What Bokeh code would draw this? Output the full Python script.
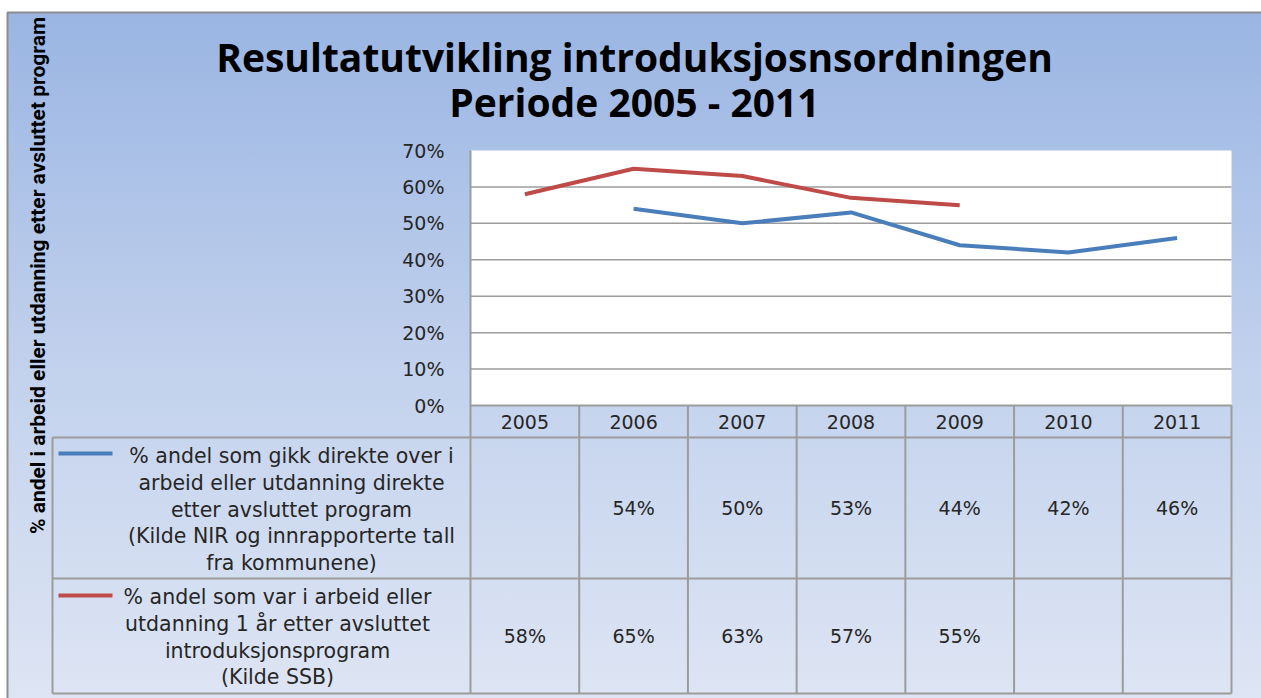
import math
from bokeh.plotting import figure
from bokeh.models import Range1d
from bokeh.embed import file_html
from bokeh.resources import INLINE
from bokeh.core.properties import value

# ---------------- data ----------------
years = [2005, 2006, 2007, 2008, 2009, 2010, 2011]
nir = [None, 54, 50, 53, 44, 42, 46]        # % direkte over i arbeid/utdanning (NIR)
ssb = [58, 65, 63, 57, 55, None, None]      # % i arbeid/utdanning 1 år etter (SSB)
y_ticks = [0, 10, 20, 30, 40, 50, 60, 70]
grid_ticks = [10, 20, 30, 40, 50, 60]
title_lines = ["Resultatutvikling introduksjosnsordningen", "Periode 2005 - 2011"]
y_title = "% andel i arbeid eller utdanning etter avsluttet program"
nir_label = ["% andel som gikk direkte over i", "arbeid eller utdanning direkte",
             "etter avsluttet program", "(Kilde NIR og innrapporterte tall",
             "fra kommunene)"]
ssb_label = ["% andel som var i arbeid eller", "utdanning 1 år etter avsluttet",
             "introduksjonsprogram", "(Kilde SSB)"]

BLUE = "#4a7ebb"
RED = "#be4b48"
GRID = "#9c9c9c"
TXT = "#262626"
FONT = value("DejaVu Sans")

# ---------------- layout (page pixels) ----------------
W, H = 1261, 698
PL, PR, PT, PB = 470, 1231, 150, 405        # white plot area
head_bottom, row1_bottom, row2_bottom = 437, 578, 693
legend_left = 52

ppx = (PR - PL) / len(years)
xa = years[0] - 0.5
xb = years[-1] + 0.5
ppy = (PB - PT) / y_ticks[-1]

p = figure(width=W, height=H, output_backend="svg", toolbar_location=None, title=None,
           x_range=Range1d(xa - PL / ppx, xa + (W - PL) / ppx),
           y_range=Range1d(-(H - PB) / ppy, y_ticks[-1] + PT / ppy),
           x_axis_location=None, y_axis_location=None, min_border=0)
p.min_border_left = p.min_border_right = p.min_border_top = p.min_border_bottom = 0
p.extra_x_ranges = {"px": Range1d(0, W)}
p.extra_y_ranges = {"px": Range1d(0, H)}
up = lambda y: H - y

p.grid.visible = False
p.outline_line_color = None
p.background_fill_color = None
p.border_fill_color = None
p.styles = {
    "background-color": "#ffffff",
    "background-image": "linear-gradient(to bottom, #9ab5e3 0%, #c3d2ed 52%, #dfe6f4 100%)",
    "background-position": "7px 12px",
    "background-size": "1260px 700px",
    "background-repeat": "no-repeat",
}

# outer chart border
p.quad(left=[7], right=[W + 10], top=[up(12)], bottom=[-10], fill_color=None,
       line_color="#8d8d8d", line_width=2, x_range_name="px", y_range_name="px")

# white plot area (data extent)
p.quad(left=[xa], right=[xb], bottom=[y_ticks[0]], top=[y_ticks[-1]],
       fill_color="white", line_color=None)

# horizontal gridlines
p.segment(x0=[xa] * len(grid_ticks), x1=[xb] * len(grid_ticks), y0=grid_ticks, y1=grid_ticks,
          line_color=GRID, line_width=1.5)

# y tick labels
p.text(x=[PL - 26] * len(y_ticks), y=y_ticks, text=[f"{t}%" for t in y_ticks],
       x_range_name="px", text_align="right", text_baseline="middle",
       text_font=FONT, text_font_size="19px", text_color=TXT)

# y axis title
p.text(x=[37], y=[up(275)], text=[y_title], angle=math.pi / 2,
       x_range_name="px", y_range_name="px", text_align="center", text_baseline="middle",
       text_font=value("Roboto"), text_font_style="bold", text_font_size="21px",
       text_color="black")

# title
p.text(x=[634, 634], y=[up(56), up(101)], text=title_lines,
       x_range_name="px", y_range_name="px", text_align="center", text_baseline="middle",
       text_font=value("Open Sans"), text_font_style="bold", text_font_size="39px",
       text_color="black")

# ---------------- data table grid ----------------
edges = [y - 0.5 for y in years] + [xb]
top_of = [up(PT)] + [up(PB)] * (len(edges) - 1)
p.segment(x0=edges, x1=edges, y0=top_of, y1=[up(row2_bottom)] * len(edges),
          y_range_name="px", line_color=GRID, line_width=2)
p.segment(x0=[xa], x1=[xb], y0=[y_ticks[0]], y1=[y_ticks[0]], line_color=GRID, line_width=2)
hs = [head_bottom, row1_bottom, row2_bottom]
p.segment(x0=[legend_left] * 3, x1=[PR] * 3, y0=[up(v) for v in hs], y1=[up(v) for v in hs],
          x_range_name="px", y_range_name="px", line_color=GRID, line_width=2)
p.segment(x0=[legend_left], x1=[legend_left], y0=[up(head_bottom)], y1=[up(row2_bottom)],
          x_range_name="px", y_range_name="px", line_color=GRID, line_width=2)

# year header
p.text(x=years, y=[up(421)] * len(years), text=[str(y) for y in years], y_range_name="px",
       text_align="center", text_baseline="middle",
       text_font=FONT, text_font_size="19px", text_color=TXT)

# legend keys
p.segment(x0=[58, 58], x1=[112, 112], y0=[up(453), up(595)], y1=[up(453), up(595)],
          x_range_name="px", y_range_name="px", line_color=[BLUE, RED], line_width=4)

# legend texts
ly1 = [455, 482, 509, 535, 562]
ly2 = [596, 623, 650, 676]
p.text(x=[291] * len(nir_label) + [277] * len(ssb_label),
       y=[up(v) for v in ly1 + ly2], text=nir_label + ssb_label,
       x_range_name="px", y_range_name="px", text_align="center", text_baseline="middle",
       text_font=FONT, text_font_size="20.5px", text_color=TXT)

# table values
r1 = up((head_bottom + row1_bottom) / 2)
r2 = up((row1_bottom + row2_bottom) / 2)
vx, vy, vt = [], [], []
for yr, a, b in zip(years, nir, ssb):
    if a is not None:
        vx.append(yr); vy.append(r1); vt.append(f"{a}%")
    if b is not None:
        vx.append(yr); vy.append(r2); vt.append(f"{b}%")
p.text(x=vx, y=vy, text=vt, y_range_name="px", text_align="center", text_baseline="middle",
       text_font=FONT, text_font_size="19px", text_color=TXT)

# ---------------- series lines ----------------
nan = float("nan")
p.line(years, [nan if v is None else v for v in nir], line_color=BLUE, line_width=4)
p.line(years, [nan if v is None else v for v in ssb], line_color=RED, line_width=4)

open("out.html", "w").write(file_html(p, INLINE))
